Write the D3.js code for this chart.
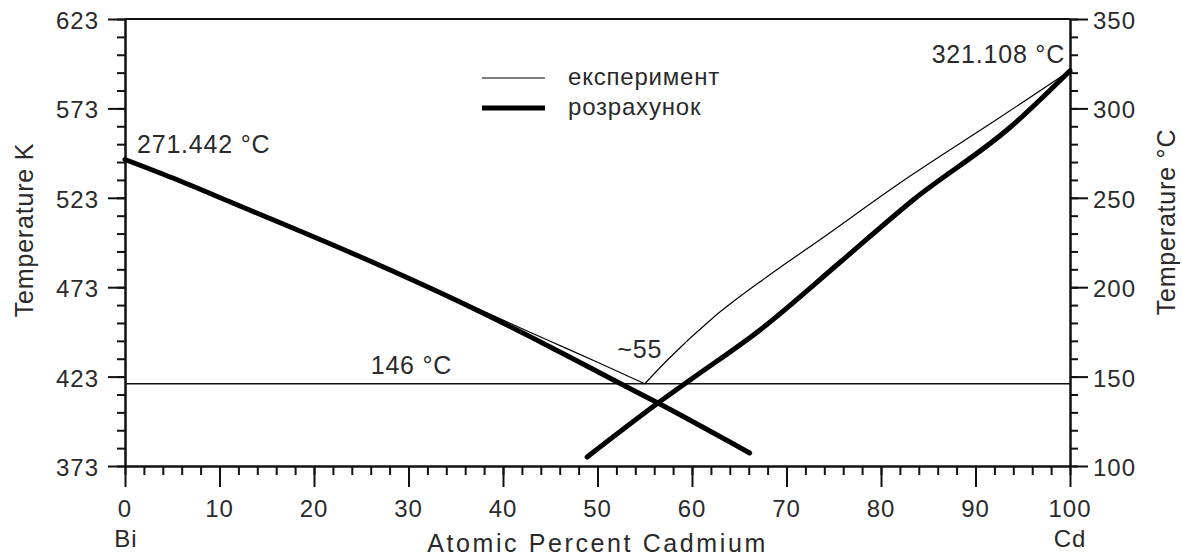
<!DOCTYPE html>
<html>
<head>
<meta charset="utf-8">
<script src="https://cdn.jsdelivr.net/npm/d3@7"></script>
<style>
  html, body { margin: 0; padding: 0; background: #ffffff; }
  svg { display: block; }
  text { font-family: "Liberation Sans", Arial, sans-serif; fill: #2a2a2a; }
</style>
</head>
<body>
<svg id="chart" width="1182" height="559"></svg>
<script>
// Bi–Cd liquidus: experimental vs calculated curves (x = at.% Cd, t = °C)
const xTicks = d3.range(0, 101, 10);
const xMinorTicks = d3.range(0, 101, 2);
const kelvinTicks = [373, 423, 473, 523, 573, 623];
const kelvinMinorTicks = d3.range(373, 624, 10);
const celsiusTicks = [100, 150, 200, 250, 300, 350];
const celsiusMinorTicks = d3.range(100, 351, 10);

const meltBi = 271.442;
const meltCd = 321.108;
const eutecticT = 146;
const eutecticX = 55;

const experimentBi = [[0, meltBi], [10, 250.0], [20, 227.8], [30, 205.2], [35, 193.6],
                      [40, 181.6], [45, 169.8], [50, 158.0], [eutecticX, eutecticT]];
const experimentCd = [[eutecticX, eutecticT], [57.4, 159.3], [62.2, 182.8], [67.9, 205.7],
                      [73.5, 226.4], [82, 258.3], [92.6, 295.0], [100, meltCd]];
const calcBi = [[0, meltBi], [5, 261.2], [11.4, 247.1], [25.2, 216.3], [35, 192.8],
                [45, 166.6], [52.1, 147.0], [56.4, 135.2], [66.1, 107.3]];
const calcCd = [[48.9, 105.0], [56.4, 135.2], [59.8, 148.1], [67.2, 176.1], [75.7, 214.1],
                [83.4, 248.8], [93.7, 289.6], [100, meltCd]];

const legendItems = [
  { label: "експеримент", width: 1.2 },
  { label: "розрахунок", width: 5 }
];

const svg = d3.select("#chart");
const plot = { left: 125, right: 1070, top: 19, bottom: 466 };

const x = d3.scaleLinear().domain([0, 100]).range([plot.left, plot.right]);
const yC = d3.scaleLinear().domain([100, 350]).range([plot.bottom, plot.top]);
const yK = d3.scaleLinear().domain([373, 623]).range([plot.bottom, plot.top]);

const axisColor = "#111";

// frame top edge
svg.append("line")
  .attr("x1", plot.left).attr("x2", plot.right).attr("y1", plot.top).attr("y2", plot.top)
  .attr("stroke", axisColor).attr("stroke-width", 2);

function styleAxis(g) {
  g.select(".domain").attr("stroke", axisColor).attr("stroke-width", 2);
  g.selectAll(".tick line").attr("stroke", axisColor).attr("stroke-width", 2);
  g.selectAll(".tick text").remove();
}

// bottom axis
svg.append("g").attr("transform", `translate(0,${plot.bottom})`)
  .call(d3.axisBottom(x).tickValues(xMinorTicks).tickSize(9).tickSizeOuter(0).tickFormat(""))
  .call(styleAxis);
svg.append("g").attr("transform", `translate(0,${plot.bottom})`)
  .call(d3.axisBottom(x).tickValues(xTicks).tickSize(21).tickSizeOuter(0).tickFormat(""))
  .call(styleAxis);

// left axis (K)
svg.append("g").attr("transform", `translate(${plot.left},0)`)
  .call(d3.axisLeft(yK).tickValues(kelvinMinorTicks).tickSize(8).tickSizeOuter(0).tickFormat(""))
  .call(styleAxis);
svg.append("g").attr("transform", `translate(${plot.left},0)`)
  .call(d3.axisLeft(yK).tickValues(kelvinTicks).tickSize(17).tickSizeOuter(0).tickFormat(""))
  .call(styleAxis);

// right axis (°C)
svg.append("g").attr("transform", `translate(${plot.right},0)`)
  .call(d3.axisRight(yC).tickValues(celsiusMinorTicks).tickSize(8).tickSizeOuter(0).tickFormat(""))
  .call(styleAxis);
svg.append("g").attr("transform", `translate(${plot.right},0)`)
  .call(d3.axisRight(yC).tickValues(celsiusTicks).tickSize(18).tickSizeOuter(0).tickFormat(""))
  .call(styleAxis);

const tickFont = 24;

svg.append("g").selectAll("text").data(xTicks).join("text")
  .attr("x", d => x(d)).attr("y", 517)
  .attr("text-anchor", "middle").attr("font-size", tickFont).attr("letter-spacing", 1)
  .text(d => d);

svg.append("g").selectAll("text").data(kelvinTicks).join("text")
  .attr("x", 99).attr("y", d => yK(d) + 10)
  .attr("text-anchor", "end").attr("font-size", tickFont).attr("letter-spacing", 1)
  .text(d => d);

svg.append("g").selectAll("text").data(celsiusTicks).join("text")
  .attr("x", 1093).attr("y", d => yC(d) + 10)
  .attr("text-anchor", "start").attr("font-size", tickFont).attr("letter-spacing", 1)
  .text(d => d);

// element names under the ends of the composition axis
svg.append("text").attr("x", x(0) + 1).attr("y", 547)
  .attr("text-anchor", "middle").attr("font-size", tickFont).attr("letter-spacing", 1).text("Bi");
svg.append("text").attr("x", x(100)).attr("y", 547)
  .attr("text-anchor", "middle").attr("font-size", tickFont).attr("letter-spacing", 1).text("Cd");

// axis titles
svg.append("text").attr("x", (plot.left + plot.right) / 2).attr("y", 552)
  .attr("text-anchor", "middle").attr("font-size", 25).attr("letter-spacing", 2.6)
  .text("Atomic Percent Cadmium");
svg.append("text").attr("transform", "translate(33,230) rotate(-90)")
  .attr("text-anchor", "middle").attr("font-size", 25).attr("letter-spacing", 0.8)
  .text("Temperature K");
svg.append("text").attr("transform", "translate(1175,222) rotate(-90)")
  .attr("text-anchor", "middle").attr("font-size", 25).attr("letter-spacing", 0.8)
  .text("Temperature °C");

// eutectic isotherm
svg.append("line")
  .attr("x1", plot.left).attr("x2", plot.right)
  .attr("y1", yC(eutecticT)).attr("y2", yC(eutecticT))
  .attr("stroke", "#111").attr("stroke-width", 1.6);

const line = d3.line().x(d => x(d[0])).y(d => yC(d[1])).curve(d3.curveMonotoneX);

// experimental liquidus (thin)
[experimentBi, experimentCd].forEach(s => {
  svg.append("path").datum(s).attr("d", line)
    .attr("fill", "none").attr("stroke", "#000").attr("stroke-width", legendItems[0].width);
});
// calculated liquidus (thick)
[calcBi, calcCd].forEach(s => {
  svg.append("path").datum(s).attr("d", line)
    .attr("fill", "none").attr("stroke", "#000").attr("stroke-width", legendItems[1].width)
    .attr("stroke-linecap", "round").attr("stroke-linejoin", "round");
});

// value annotations
svg.append("text").attr("x", x(0) + 12).attr("y", yC(meltBi) - 6)
  .attr("font-size", 25).attr("letter-spacing", 0.8).text(`${meltBi} °C`);
svg.append("text").attr("x", x(100) - 5).attr("y", yC(meltCd) - 8)
  .attr("text-anchor", "end").attr("font-size", 25).attr("letter-spacing", 0.8).text(`${meltCd} °C`);
svg.append("text").attr("x", x(26)).attr("y", yC(eutecticT) - 10)
  .attr("font-size", 25).attr("letter-spacing", 0.8).text(`${eutecticT} °C`);
svg.append("text").attr("x", x(eutecticX) - 5).attr("y", yC(eutecticT) - 26)
  .attr("text-anchor", "middle").attr("font-size", 25).attr("letter-spacing", 0.8).text(`~${eutecticX}`);

// legend
const legend = svg.append("g");
legendItems.forEach((item, i) => {
  const ly = 78 + i * 30;
  legend.append("line").attr("x1", 482).attr("x2", 545).attr("y1", ly).attr("y2", ly)
    .attr("stroke", "#000").attr("stroke-width", item.width);
  legend.append("text").attr("x", 568).attr("y", ly + 7)
    .attr("font-size", 24).attr("letter-spacing", 0.8).text(item.label);
});
</script>
</body>
</html>
